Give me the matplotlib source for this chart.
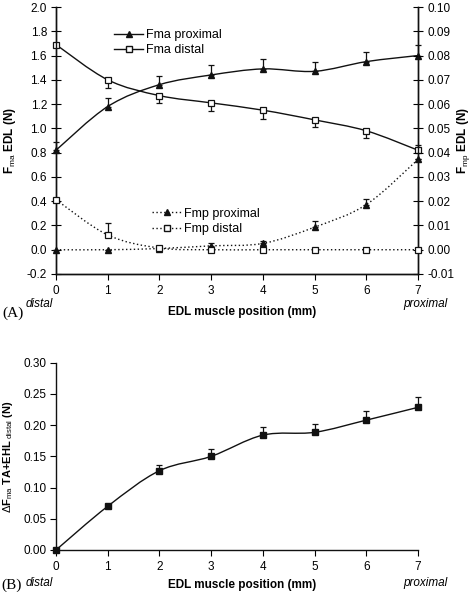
import numpy as np
import matplotlib
matplotlib.use("Agg")
import matplotlib.pyplot as plt
from matplotlib.path import Path
from matplotlib.patches import PathPatch
from matplotlib.lines import Line2D

plt.rcParams["font.family"] = ["Liberation Sans", "DejaVu Sans"]
plt.rcParams["mathtext.fontset"] = "custom"
plt.rcParams["mathtext.rm"] = "Liberation Sans"
plt.rcParams["mathtext.bf"] = "Liberation Sans:bold"
plt.rcParams["mathtext.it"] = "Liberation Sans:italic"
plt.rcParams["axes.unicode_minus"] = False

# data
positions = [0, 1, 2, 3, 4, 5, 6, 7]

fma_proximal = [0.82, 1.18, 1.36, 1.44, 1.49, 1.47, 1.55, 1.60]
fma_proximal_err = [0.07, 0.07, 0.07, 0.08, 0.08, 0.08, 0.08, 0.09]
fma_distal = [1.69, 1.40, 1.27, 1.21, 1.15, 1.07, 0.98, 0.82]
fma_distal_err_lo = [0.0, 0.07, 0.06, 0.07, 0.075, 0.06, 0.06, 0.0]
fma_distal_err_hi = [0.0, 0.0, 0.0, 0.0, 0.0, 0.0, 0.0, 0.04]

fmp_proximal = [0.0, 0.0, 0.0005, 0.0016, 0.0026, 0.0093, 0.0186, 0.0372]
fmp_proximal_err = [0.0, 0.0, 0.0, 0.001, 0.001, 0.0027, 0.0022, 0.0]
fmp_distal = [0.0206, 0.0061, 0.0007, 0.0, 0.0, 0.0, 0.0, 0.0]
fmp_distal_err = [0.0, 0.0049, 0.0, 0.0, 0.0, 0.0, 0.0, 0.0]

delta_fma = [0.0, 0.070, 0.127, 0.150, 0.184, 0.1885, 0.208, 0.2285]
delta_fma_err = [0.0, 0.002, 0.0095, 0.0125, 0.0125, 0.0135, 0.0145, 0.017]


def smooth_path(xs, ys):
    # Excel-like smoothed line through the data points (cubic Bezier segments)
    pts = np.column_stack([xs, ys]).astype(float)
    n = len(pts)
    verts = [pts[0]]
    codes = [Path.MOVETO]
    for i in range(n - 1):
        p0 = pts[max(i - 1, 0)]
        p1 = pts[i]
        p2 = pts[i + 1]
        p3 = pts[min(i + 2, n - 1)]
        verts += [p1 + (p2 - p0) / 6.0, p2 - (p3 - p1) / 6.0, p2]
        codes += [Path.CURVE4] * 3
    return Path(verts, codes)


def add_curve(ax, xs, ys, ls="-"):
    patch = PathPatch(smooth_path(xs, ys), fill=False, edgecolor="#111111",
                      lw=1.0, linestyle=ls, clip_on=False, zorder=2)
    ax.add_patch(patch)


W, H = 474, 592
fig = plt.figure(figsize=(W / 100, H / 100), dpi=100)

dotted = (0, (1.0, 1.8))

# ---------------- panel A ----------------
ax = fig.add_axes([56 / W, 1 - 274 / H, (418 - 56) / W, (274 - 7) / H])
ax2 = ax.twinx()

add_curve(ax, positions, fma_proximal)
add_curve(ax, positions, fma_distal)
ax.errorbar(positions, fma_proximal, yerr=[np.zeros(8), fma_proximal_err], fmt="^",
            color="#111111", ms=5, capsize=2.5, elinewidth=0.9, capthick=0.9,
            clip_on=False, zorder=3)
ax.errorbar(positions, fma_distal, yerr=[fma_distal_err_lo, fma_distal_err_hi], fmt="s",
            color="#111111", mfc="white", ms=5, mew=0.9, capsize=2.5, elinewidth=0.9,
            capthick=0.9, clip_on=False, zorder=3)

add_curve(ax2, positions, fmp_proximal, dotted)
add_curve(ax2, positions, fmp_distal, dotted)
ax2.errorbar(positions, fmp_proximal, yerr=[np.zeros(8), fmp_proximal_err], fmt="^",
             color="#111111", ms=5, capsize=2.5, elinewidth=0.9, capthick=0.9,
             clip_on=False, zorder=3)
ax2.errorbar(positions, fmp_distal, yerr=[np.zeros(8), fmp_distal_err], fmt="s",
             color="#111111", mfc="white", ms=5, mew=0.9, capsize=2.5, elinewidth=0.9,
             capthick=0.9, clip_on=False, zorder=3)

ax.set_xlim(0, 7)
ax.set_ylim(-0.2, 2.0)
ax.set_yticks(np.arange(-0.2, 2.01, 0.2))
ax.set_yticklabels([f"{v:.1f}" for v in np.arange(-0.2, 2.01, 0.2)])
ax2.set_ylim(-0.01, 0.10)
ax2.set_yticks(np.arange(-0.01, 0.1001, 0.01))
ax2.set_yticklabels([f"{v:.2f}" for v in np.arange(-0.01, 0.1001, 0.01)])
ax.set_xticks(positions)

for a in (ax, ax2):
    a.spines["top"].set_visible(False)
    for s in a.spines.values():
        s.set_linewidth(1.0)
        s.set_color("#111111")
ax.tick_params(axis="y", direction="inout", length=7, labelsize=8.5, pad=3)
ax2.tick_params(axis="y", direction="inout", length=7, labelsize=8.5, pad=3)
ax.tick_params(axis="x", direction="out", length=4, labelsize=8.5, pad=4)

ax.set_ylabel(r"F$_{\mathrm{ma}}$ EDL (N)", fontsize=8.5, fontweight="bold", labelpad=6)
ax2.set_ylabel(r"F$_{\mathrm{mp}}$ EDL (N)", fontsize=8.5, fontweight="bold",
               rotation=90, labelpad=1)

h1 = [Line2D([], [], color="#111111", lw=1.0, marker="^", ms=4),
      Line2D([], [], color="#111111", lw=1.0, marker="s", mfc="white", ms=4)]
ax.legend(h1, ["Fma proximal", "Fma distal"], loc="upper left",
          bbox_to_anchor=(0.13, 0.96), frameon=False, fontsize=9,
          handlelength=2.3, handletextpad=0.2, labelspacing=0.25, numpoints=1)
h2 = [Line2D([], [], color="#111111", lw=1.0, ls=dotted, marker="^", ms=4),
      Line2D([], [], color="#111111", lw=1.0, ls=dotted, marker="s", mfc="white", ms=4)]
ax2.legend(h2, ["Fmp proximal", "Fmp distal"], loc="upper left",
           bbox_to_anchor=(0.235, 0.29), frameon=False, fontsize=9,
           handlelength=2.3, handletextpad=0.2, labelspacing=0.25, numpoints=1)

fig.text(242 / W, 1 - 312 / H, "EDL muscle position (mm)", ha="center", va="center",
         fontsize=8.5, fontweight="bold")
fig.text(53 / W, 1 - 304 / H, "distal", ha="right", va="center", fontsize=8.5, style="italic")
fig.text(448 / W, 1 - 304 / H, "proximal", ha="right", va="center", fontsize=8.5, style="italic")
fig.text(2 / W, 1 - 313 / H, "(A)", ha="left", va="center", fontsize=11,
         family="Liberation Serif")

# ---------------- panel B ----------------
bx = fig.add_axes([56 / W, 1 - 550 / H, (418 - 56) / W, (550 - 362.7) / H])
add_curve(bx, positions, delta_fma)
bx.errorbar(positions, delta_fma, yerr=[np.zeros(8), delta_fma_err], fmt="s",
            color="#111111", ms=5, capsize=2.5, elinewidth=0.9, capthick=0.9,
            clip_on=False, zorder=3)
bx.set_xlim(0, 7)
bx.set_ylim(0, 0.30)
bx.set_xticks(positions)
bx.set_yticks(np.arange(0, 0.301, 0.05))
bx.set_yticklabels([f"{v:.2f}" for v in np.arange(0, 0.301, 0.05)])
bx.spines["top"].set_visible(False)
bx.spines["right"].set_visible(False)
for s in bx.spines.values():
    s.set_linewidth(1.0)
    s.set_color("#111111")
bx.tick_params(axis="y", direction="out", length=4, labelsize=8.5, pad=3)
bx.tick_params(axis="x", direction="out", length=4, labelsize=8.5, pad=4)
bx.set_ylabel(r"$\Delta$F$_{\mathrm{ma}}$ TA+EHL$_{\mathrm{\ distal}}$ (N)", fontsize=8,
              fontweight="bold", labelpad=6)

fig.text(242 / W, 1 - 585 / H, "EDL muscle position (mm)", ha="center", va="center",
         fontsize=8.5, fontweight="bold")
fig.text(53 / W, 1 - 583 / H, "distal", ha="right", va="center", fontsize=8.5, style="italic")
fig.text(448 / W, 1 - 583 / H, "proximal", ha="right", va="center", fontsize=8.5, style="italic")
fig.text(1 / W, 1 - 585 / H, "(B)", ha="left", va="center", fontsize=11,
         family="Liberation Serif")

fig.savefig("out.png", dpi=100)
